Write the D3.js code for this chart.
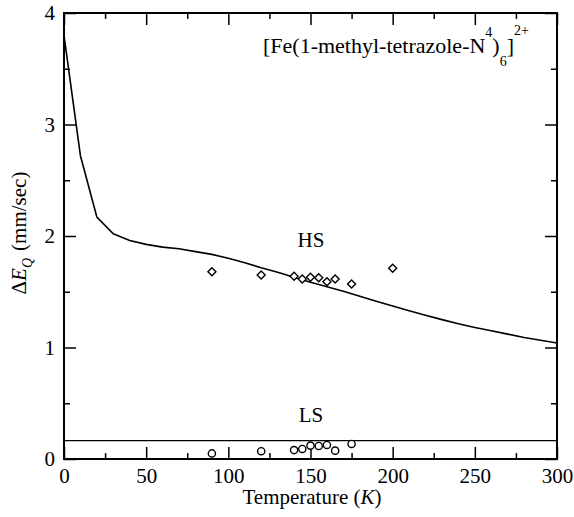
<!DOCTYPE html>
<html>
<head>
<meta charset="utf-8">
<script src="https://cdn.jsdelivr.net/npm/d3@7"></script>
<style>
  body { margin: 0; background: #fff; }
  svg text { font-family: "Liberation Serif", "DejaVu Serif", serif; fill: #000; }
</style>
</head>
<body>
<div class="chart"></div>
<script>
// theory curve (K, mm/sec)
const curveT = [0, 10, 20, 30, 40, 50, 60, 70, 80, 90, 100, 110, 120, 130, 140, 150,
                160, 170, 180, 190, 200, 210, 220, 230, 240, 250, 260, 270, 280, 290, 300];
const curveE = [3.80, 2.72, 2.17, 2.02, 1.96, 1.925, 1.90, 1.885, 1.86, 1.835, 1.80, 1.76,
                1.715, 1.675, 1.63, 1.585, 1.545, 1.505, 1.46, 1.415, 1.372, 1.33, 1.29,
                1.25, 1.213, 1.18, 1.15, 1.12, 1.09, 1.065, 1.04];

// high spin measurements (diamonds)
const hsT = [90, 120, 140, 145, 150, 155, 160, 165, 175, 200];
const hsE = [1.68, 1.65, 1.64, 1.615, 1.63, 1.625, 1.59, 1.615, 1.57, 1.71];

// low spin measurements (circles)
const lsT = [90, 120, 140, 145, 150, 155, 160, 165, 175];
const lsE = [0.05, 0.07, 0.08, 0.09, 0.12, 0.117, 0.126, 0.075, 0.135];

// low spin level
const lsLevel = 0.165;

const xTicks = [0, 50, 100, 150, 200, 250, 300];
const yTicks = [0, 1, 2, 3, 4];

const width = 574, height = 517;
const margin = {left: 64, right: 17, top: 13, bottom: 58};

const svg = d3.select("div.chart").append("svg")
    .attr("width", width)
    .attr("height", height);

const x = d3.scaleLinear().domain([0, 300]).range([margin.left, width - margin.right]);
const y = d3.scaleLinear().domain([0, 4]).range([height - margin.bottom, margin.top]);

const x0 = x.range()[0], x1 = x.range()[1];
const y0 = y.range()[0], y1 = y.range()[1];

const xMinor = d3.range(25, 300, 50);
const yMinor = d3.range(0.5, 4, 1);
const fmt = d3.format("d");

function styleAxis(g) {
    g.select(".domain").remove();
    g.attr("font-family", null).attr("font-size", null);
    g.selectAll(".tick line").attr("stroke", "#000").attr("stroke-width", 1.5);
    g.selectAll(".tick text").style("font-size", "21px");
}

// bottom
svg.append("g").attr("transform", `translate(0,${y0})`)
    .call(d3.axisBottom(x).tickValues(xTicks).tickSize(-12).tickPadding(9).tickFormat(fmt))
    .call(styleAxis);
svg.append("g").attr("transform", `translate(0,${y0})`)
    .call(d3.axisBottom(x).tickValues(xMinor).tickSize(-6).tickFormat(""))
    .call(styleAxis);
// top
svg.append("g").attr("transform", `translate(0,${y1})`)
    .call(d3.axisTop(x).tickValues(xTicks).tickSize(-12).tickFormat(""))
    .call(styleAxis);
svg.append("g").attr("transform", `translate(0,${y1})`)
    .call(d3.axisTop(x).tickValues(xMinor).tickSize(-6).tickFormat(""))
    .call(styleAxis);
// left
svg.append("g").attr("transform", `translate(${x0},0)`)
    .call(d3.axisLeft(y).tickValues(yTicks).tickSize(-12).tickPadding(9).tickFormat(fmt))
    .call(styleAxis);
svg.append("g").attr("transform", `translate(${x0},0)`)
    .call(d3.axisLeft(y).tickValues(yMinor).tickSize(-6).tickFormat(""))
    .call(styleAxis);
// right
svg.append("g").attr("transform", `translate(${x1},0)`)
    .call(d3.axisRight(y).tickValues(yTicks).tickSize(-12).tickFormat(""))
    .call(styleAxis);
svg.append("g").attr("transform", `translate(${x1},0)`)
    .call(d3.axisRight(y).tickValues(yMinor).tickSize(-6).tickFormat(""))
    .call(styleAxis);

svg.append("rect")
    .attr("x", x0).attr("y", y1)
    .attr("width", x1 - x0).attr("height", y0 - y1)
    .attr("fill", "none")
    .attr("stroke", "#000")
    .attr("stroke-width", 2);

// theory curve
const line = d3.line().x(d => x(d[0])).y(d => y(d[1]));
svg.append("path")
    .datum(curveT.map((t, i) => [t, curveE[i]]))
    .attr("d", line)
    .attr("fill", "none")
    .attr("stroke", "#000")
    .attr("stroke-width", 1.6);

// low spin level
svg.append("path")
    .datum([[0, lsLevel], [300, lsLevel]])
    .attr("d", line)
    .attr("fill", "none")
    .attr("stroke", "#000")
    .attr("stroke-width", 1.4);

// diamonds
svg.selectAll(".hs")
    .data(hsT.map((t, i) => [t, hsE[i]]))
    .enter().append("path")
    .attr("class", "hs")
    .attr("d", "M0,-4L4,0L0,4L-4,0Z")
    .attr("transform", d => `translate(${x(d[0])},${y(d[1])})`)
    .attr("fill", "#fff")
    .attr("stroke", "#000")
    .attr("stroke-width", 1.4);

// circles
svg.selectAll(".ls")
    .data(lsT.map((t, i) => [t, lsE[i]]))
    .enter().append("circle")
    .attr("class", "ls")
    .attr("cx", d => x(d[0]))
    .attr("cy", d => y(d[1]))
    .attr("r", 3.6)
    .attr("fill", "#fff")
    .attr("stroke", "#000")
    .attr("stroke-width", 1.4);

// labels
svg.append("text").attr("x", 311).attr("y", 247)
    .attr("text-anchor", "middle").style("font-size", "21px").text("HS");
svg.append("text").attr("x", 311).attr("y", 422)
    .attr("text-anchor", "middle").style("font-size", "21px").text("LS");

const title = svg.append("text").attr("x", 263).attr("y", 53)
    .style("font-size", "22px");
title.append("tspan").text("[Fe(1-methyl-tetrazole-N");
title.append("tspan").attr("dy", -16).style("font-size", "14px").text("4");
title.append("tspan").attr("dy", 16).text(")");
title.append("tspan").attr("dy", 13).style("font-size", "14px").text("6");
title.append("tspan").attr("dy", -13).text("]");
title.append("tspan").attr("dy", -18).style("font-size", "14px").text("2+");

const xLabel = svg.append("text")
    .attr("x", 312).attr("y", 504)
    .attr("text-anchor", "middle").style("font-size", "21px");
xLabel.append("tspan").text("Temperature (");
xLabel.append("tspan").style("font-style", "italic").text("K");
xLabel.append("tspan").text(")");

const yLabel = svg.append("text")
    .attr("transform", `translate(26,233) rotate(-90)`)
    .attr("text-anchor", "middle").style("font-size", "21px");
yLabel.append("tspan").text("\u0394");
yLabel.append("tspan").style("font-style", "italic").text("E");
yLabel.append("tspan").attr("dy", 6).style("font-style", "italic").style("font-size", "14px").text("Q");
yLabel.append("tspan").attr("dy", -6).attr("dx", 7).text("(mm/sec)");
</script>
</body>
</html>
